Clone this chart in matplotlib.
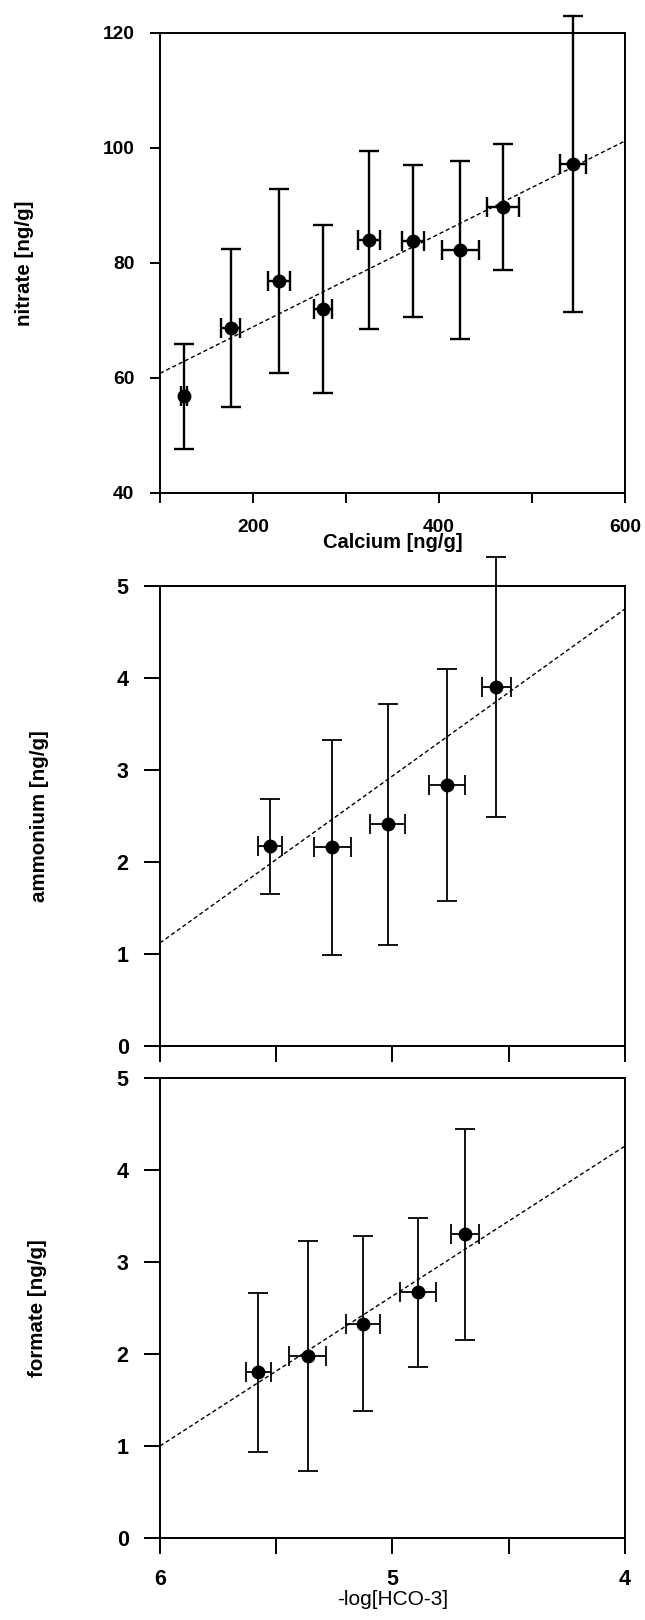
import matplotlib
matplotlib.use("Agg")
import matplotlib.pyplot as plt
from matplotlib.ticker import FixedLocator, NullFormatter

# panel 1: nitrate vs calcium
ca_x    = [126, 176, 228, 275, 325, 372, 423, 469, 544]
ca_xerr = [3, 10, 12, 9.5, 12, 12, 20, 17, 14]
no3_y   = [56.8, 68.7, 76.8, 72.0, 84.0, 83.8, 82.2, 89.7, 97.2]
no3_err = [9.1, 13.8, 16.0, 14.6, 15.5, 13.2, 15.5, 10.9, 25.8]
no3_fit_x = [100, 600]
no3_fit_y = [60.8, 101.2]

# panel 2: ammonium vs -log[HCO3-]
nh4_x    = [5.528, 5.258, 5.020, 4.765, 4.553]
nh4_xerr = [0.051, 0.079, 0.075, 0.076, 0.063]
nh4_y    = [2.17, 2.16, 2.41, 2.84, 3.90]
nh4_err  = [0.52, 1.17, 1.31, 1.26, 1.41]
nh4_fit_x = [6, 4]
nh4_fit_y = [1.12, 4.75]

# panel 3: formate vs -log[HCO3-]
fo_x    = [5.577, 5.365, 5.128, 4.890, 4.687]
fo_xerr = [0.053, 0.079, 0.073, 0.076, 0.060]
fo_y    = [1.80, 1.98, 2.33, 2.67, 3.30]
fo_err  = [0.86, 1.25, 0.95, 0.81, 1.15]
fo_fit_x = [6, 4]
fo_fit_y = [1.00, 4.26]

plt.rcParams.update({
    "font.family": "Liberation Sans", "font.weight": "bold",
    "axes.linewidth": 1.4,
    "xtick.major.width": 1.4, "ytick.major.width": 1.4, "xtick.minor.width": 1.4,
})

fig = plt.figure(figsize=(6.45, 16.2), dpi=100)
L, W, H = 0.248, 0.721, 0.284
ax1 = fig.add_axes([L, 0.6957, W, H])
ax2 = fig.add_axes([L, 0.3543, W, H])
ax3 = fig.add_axes([L, 0.0506, W, H])

def panel(ax, x, xerr, y, yerr, fx, fy, lw):
    ax.plot(fx, fy, color="black", lw=1.0, ls=(0, (3, 2)), zorder=1)
    eb = ax.errorbar(x, y, yerr=yerr, xerr=xerr, fmt="o", color="black",
                     ms=9, capsize=7, elinewidth=lw, capthick=lw, zorder=3)
    eb.lines[0].set_clip_on(False)
    for art in list(eb.lines[1]) + list(eb.lines[2]):
        art.set_clip_on(False)

panel(ax1, ca_x, ca_xerr, no3_y, no3_err, no3_fit_x, no3_fit_y, 1.7)
ax1.set_xlim(100, 600)
ax1.set_ylim(40, 120)
ax1.xaxis.set_major_locator(FixedLocator([200, 400, 600]))
ax1.xaxis.set_minor_locator(FixedLocator([100, 300, 500]))
ax1.set_yticks([40, 60, 80, 100, 120])
ax1.tick_params(which="both", direction="out", length=7, width=1.4,
                pad=11.5, labelsize=13.8)
ax1.set_xlabel("Calcium [ng/g]", fontweight="bold", fontsize=14.5, labelpad=-2)
ax1.set_ylabel("nitrate [ng/g]", fontweight="bold", fontsize=14.8)
ax1.yaxis.set_label_coords(-0.271, 0.5)

panel(ax2, nh4_x, nh4_xerr, nh4_y, nh4_err, nh4_fit_x, nh4_fit_y, 1.3)
ax2.set_xlim(6, 4)
ax2.set_ylim(0, 5)
ax2.set_xticks([6, 5.5, 5, 4.5, 4])
ax2.xaxis.set_major_formatter(NullFormatter())
ax2.set_ylabel("ammonium [ng/g]", fontweight="bold", fontsize=14.8)
ax2.yaxis.set_label_coords(-0.239, 0.5)

panel(ax3, fo_x, fo_xerr, fo_y, fo_err, fo_fit_x, fo_fit_y, 1.3)
ax3.set_xlim(6, 4)
ax3.set_ylim(0, 5)
ax3.set_xticks([6, 5, 4])
ax3.set_xticks([5.5, 4.5], minor=True)
ax3.set_xlabel("-log[HCO-3]", fontweight="normal", fontsize=15, labelpad=0)
ax3.set_ylabel("formate [ng/g]", fontweight="bold", fontsize=14.8)
ax3.yaxis.set_label_coords(-0.242, 0.5)

for ax in (ax2, ax3):
    ax.tick_params(which="both", direction="out", length=11.5, width=1.4,
                   pad=11, labelsize=15.5)

for ax in (ax1, ax2, ax3):
    for lab in ax.get_xticklabels() + ax.get_yticklabels():
        lab.set_fontweight("bold")

fig.savefig("out.png", dpi=100)
